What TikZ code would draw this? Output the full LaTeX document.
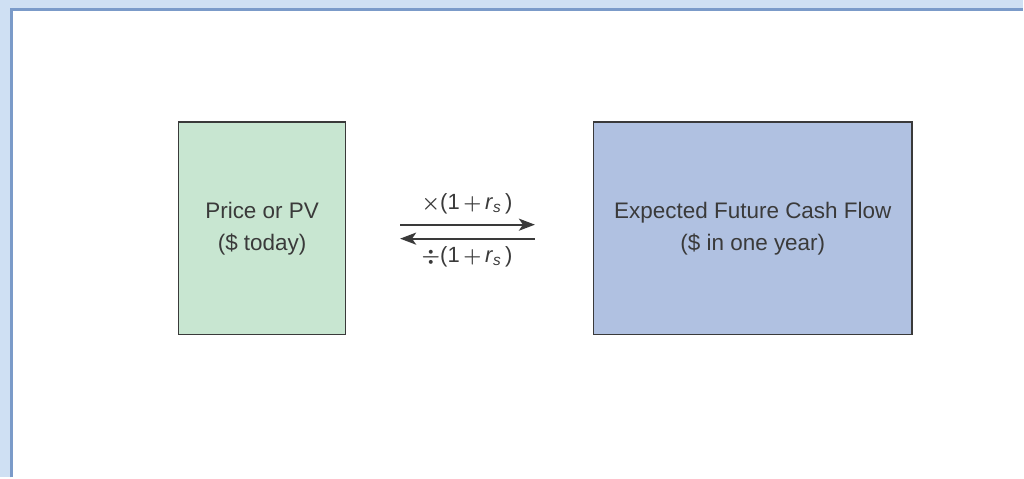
\documentclass[tikz,border=0pt]{standalone}
\usepackage{amsmath}
\usepackage{fontspec}
\setmainfont{Liberation Sans}
\usetikzlibrary{arrows.meta,positioning}
\definecolor{framebg}{HTML}{CFE0F3}
\definecolor{frameline}{HTML}{7B9BC9}
\definecolor{pvfill}{HTML}{C8E6D1}
\definecolor{cffill}{HTML}{B0C1E1}
\definecolor{inktext}{HTML}{3A3A3A}

\begin{document}
\begin{tikzpicture}[x=1pt, y=1pt,
    valuebox/.style={draw=inktext, line width=1.4pt, text=inktext, align=center,
      minimum height=213pt, inner sep=0pt, text depth=3pt,
      font=\fontsize{22.5}{32}\selectfont},
    flow/.style={-{Stealth[length=16pt, width=12pt, inset=4pt]}, line width=2.2pt, inktext},
    rate/.style={text=inktext, font=\fontsize{22}{26}\selectfont, inner sep=0pt}]
  % frame
  \fill[framebg] (0,0) rectangle (1024,478);
  \fill[white] (11.7,0) rectangle (1024,468.5);
  \draw[frameline, line width=3pt] (11.7,0) -- (11.7,468.5) -- (1024,468.5);

  % boxes
  \node[valuebox, fill=pvfill, minimum width=167pt] (pv) at (262.5,249.5)
    {Price or PV\\(\$ today)};
  \node[valuebox, fill=cffill, minimum width=319pt, right=247pt of pv] (cf)
    {Expected Future Cash Flow\\(\$ in one year)};

  % compounding and discounting
  \draw[flow, shorten <=54pt, shorten >=58pt] ([yshift=3.5pt]pv.east) -- ([yshift=3.5pt]cf.west)
    node[rate, pos=0.49, above=10pt] {$\boldsymbol{\times}$(1\,$\boldsymbol{+}$\,\textit{r}\textsubscript{\textit{s}}\,)};
  \draw[flow, shorten <=58pt, shorten >=54pt] ([yshift=-10.5pt]cf.west) -- ([yshift=-10.5pt]pv.east)
    node[rate, pos=0.51, below=7pt] {$\boldsymbol{\div}$(1\,$\boldsymbol{+}$\,\textit{r}\textsubscript{\textit{s}}\,)};
\end{tikzpicture}
\end{document}
